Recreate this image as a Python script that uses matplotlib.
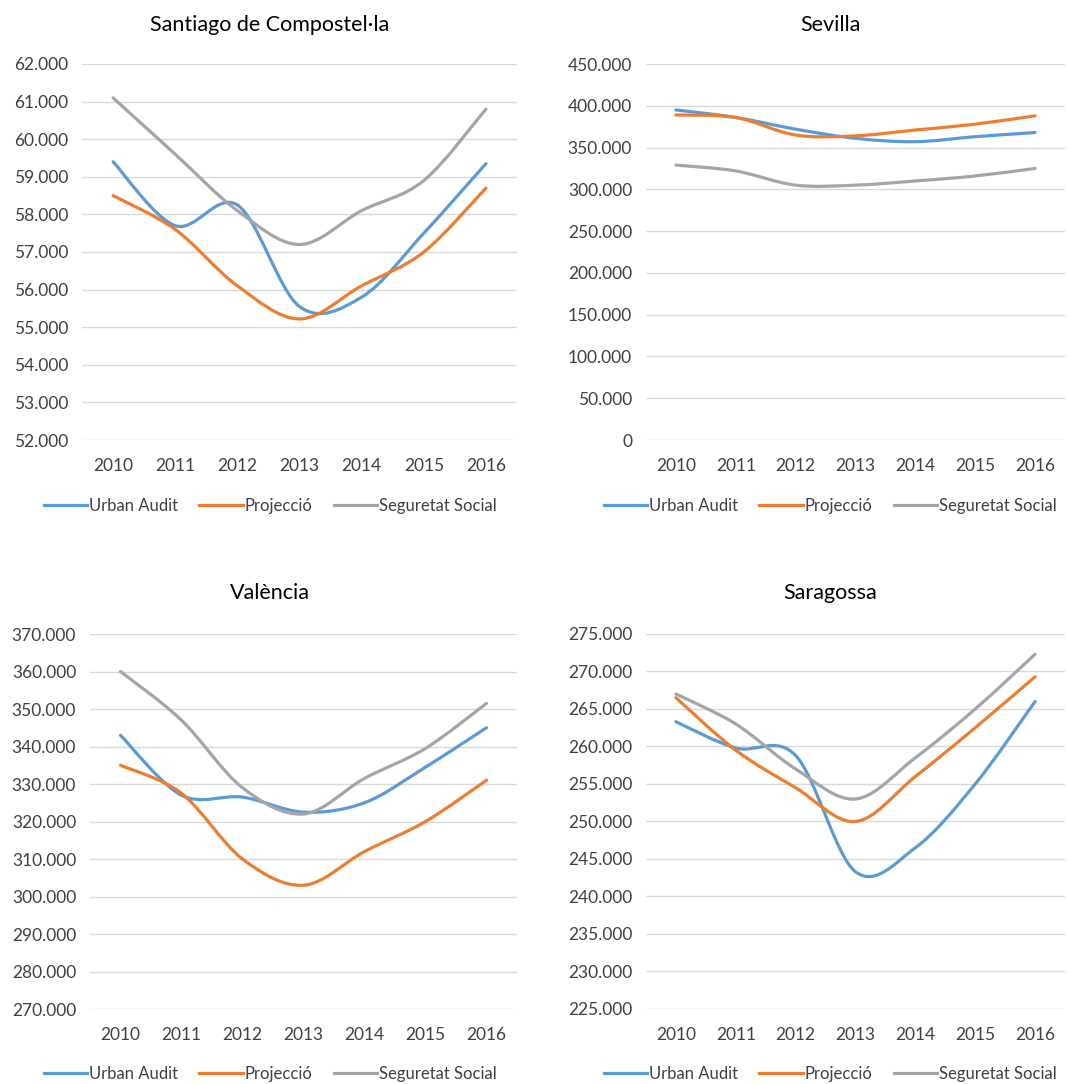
import matplotlib
matplotlib.use("Agg")
import matplotlib.pyplot as plt
from matplotlib.path import Path
from matplotlib.patches import PathPatch
from matplotlib.lines import Line2D
from matplotlib.ticker import FuncFormatter, MultipleLocator

plt.rcParams['font.family'] = ['Lato', 'DejaVu Sans']

# Anys i sèries
anys = ["2010", "2011", "2012", "2013", "2014", "2015", "2016"]
series = ["Urban Audit", "Projecció", "Seguretat Social"]
colors = ["#5B9BD5", "#ED7D31", "#A5A5A5"]

santiago_ua = [59400, 57700, 58250, 55550, 55800, 57500, 59350]
santiago_proj = [58500, 57600, 56100, 55220, 56100, 57000, 58700]
santiago_ss = [61100, 59600, 58100, 57200, 58100, 58900, 60800]

sevilla_ua = [395000, 386000, 372000, 361000, 357000, 363000, 368000]
sevilla_proj = [389000, 386000, 365000, 364000, 371000, 378000, 388000]
sevilla_ss = [329000, 322000, 305000, 305000, 310000, 316000, 325000]

valencia_ua = [343000, 327000, 326500, 322500, 325000, 334500, 345000]
valencia_proj = [335000, 327500, 310000, 303000, 312000, 320000, 331000]
valencia_ss = [360000, 347000, 329000, 322000, 331500, 339500, 351500]

saragossa_ua = [263300, 259800, 258800, 243300, 246500, 255000, 266000]
saragossa_proj = [266500, 259500, 254500, 250000, 256000, 262500, 269300]
saragossa_ss = [267000, 263000, 257000, 253000, 258500, 265000, 272300]

panels = [
    ("Santiago de Compostel·la", [santiago_ua, santiago_proj, santiago_ss], 52000, 62000, 1000),
    ("Sevilla", [sevilla_ua, sevilla_proj, sevilla_ss], 0, 450000, 50000),
    ("València", [valencia_ua, valencia_proj, valencia_ss], 270000, 370000, 10000),
    ("Saragossa", [saragossa_ua, saragossa_proj, saragossa_ss], 225000, 275000, 5000),
]

W, H = 1069, 1084
# posicions en píxels: (esquerra, dalt, dreta, baix) de l'àrea de dibuix
boxes = [
    (82, 64, 517, 440),
    (646, 64, 1065, 440),
    (90, 634, 517, 1009),
    (646, 634, 1065, 1009),
]
# centre horitzontal de cada gràfic, i alçada del títol i de la llegenda
chart_x = [270, 830, 270, 830]
title_y = [25, 25, 593, 593]
legend_y = [506, 506, 1074, 1074]


def smooth_path(xs, ys):
    # corba de Bézier suavitzada entre punts consecutius
    n = len(xs)
    verts = [(xs[0], ys[0])]
    codes = [Path.MOVETO]
    for i in range(n - 1):
        i0 = max(i - 1, 0)
        i3 = min(i + 2, n - 1)
        c1 = (xs[i] + (xs[i + 1] - xs[i0]) / 6, ys[i] + (ys[i + 1] - ys[i0]) / 6)
        c2 = (xs[i + 1] - (xs[i3] - xs[i]) / 6, ys[i + 1] - (ys[i3] - ys[i]) / 6)
        verts += [c1, c2, (xs[i + 1], ys[i + 1])]
        codes += [Path.CURVE4] * 3
    return Path(verts, codes)


def fmt(v, pos):
    return f"{int(round(v)):,}".replace(",", ".")


fig = plt.figure(figsize=(W / 100, H / 100), dpi=100)

for k, ((title, data, ymin, ymax, step), (l, t, r, b)) in enumerate(zip(panels, boxes)):
    ax = fig.add_axes([l / W, 1 - b / H, (r - l) / W, (b - t) / H])
    ax.set_xlim(-0.5, 6.5)
    ax.set_ylim(ymin, ymax)
    ax.yaxis.set_major_locator(MultipleLocator(step))
    ax.yaxis.set_major_formatter(FuncFormatter(fmt))
    ax.set_xticks(range(len(anys)))
    ax.set_xticklabels(anys)
    ax.grid(axis='y', color='#D9D9D9', linewidth=1)
    ax.set_axisbelow(True)
    for s in ax.spines.values():
        s.set_visible(False)
    ax.tick_params(length=0, labelsize=12.5, colors='#404040', pad=10)
    ax.tick_params(axis='x', pad=13)
    xs = list(range(len(anys)))
    for vals, c in zip(data, colors):
        ax.add_patch(PathPatch(smooth_path(xs, vals), facecolor='none',
                               edgecolor=c, linewidth=2.3, capstyle='round'))
    fig.text(chart_x[k] / W, 1 - title_y[k] / H, title, fontsize=15.5,
             color='#000000', ha='center', va='center')
    handles = [Line2D([], [], color=c, linewidth=2.3) for c in colors]
    fig.legend(handles, series, loc='center',
               bbox_to_anchor=(chart_x[k] / W, 1 - legend_y[k] / H),
               ncol=3, frameon=False, fontsize=12, handlelength=2.6,
               handletextpad=0.1, columnspacing=1.3, labelcolor='#404040',
               borderpad=0, borderaxespad=0)

fig.savefig("out.png", dpi=100, facecolor='white')
